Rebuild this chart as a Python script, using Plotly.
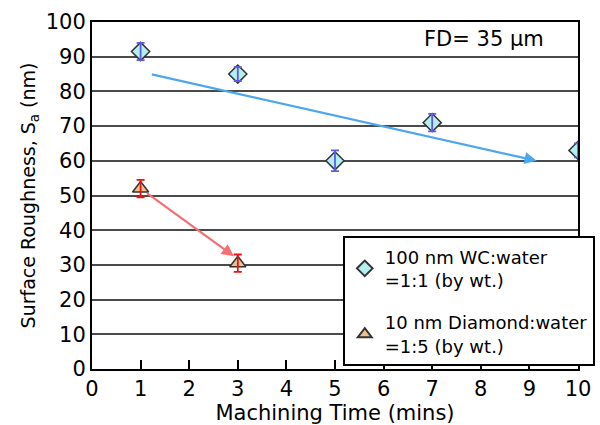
import plotly.graph_objects as go

# Data
wc_time = [1, 3, 5, 7, 10]
wc_sa = [91.5, 85, 60, 71, 63]
wc_err = [2.5, 2, 3, 2.5, 2]

dia_time = [1, 3]
dia_sa = [52, 30.5]
dia_err = [2.5, 2.5]

wc_trend_x = [1.2, 9.15]
wc_trend_y = [85, 60]
dia_trend_x = [1.1, 2.92]
dia_trend_y = [51, 32.5]

wc_name = "100 nm WC:water<br>=1:1 (by wt.)"
dia_name = "10 nm Diamond:water<br>=1:5 (by wt.)"

x_ticks = list(range(0, 11))
y_ticks = list(range(0, 101, 10))

font = "DejaVu Sans, Liberation Sans, Arial, sans-serif"

fig = go.Figure()

fig.add_trace(go.Scatter(
    x=wc_time, y=wc_sa, mode="markers", name=wc_name, legendgroup="wc",
    marker=dict(symbol="diamond", size=14, color="#b5eef0",
                line=dict(color="#333333", width=1.5)),
))
fig.add_trace(go.Scatter(
    x=dia_time, y=dia_sa, mode="markers", name=dia_name, legendgroup="dia",
    marker=dict(symbol="triangle-up", size=14, color="#f2c08c",
                line=dict(color="#333333", width=1.5)),
))
# error bars drawn on top of markers
fig.add_trace(go.Scatter(
    x=wc_time, y=wc_sa, mode="markers", showlegend=False, hoverinfo="skip",
    legendgroup="wc",
    marker=dict(size=1, opacity=0),
    error_y=dict(type="data", array=wc_err, color="#5b5be8", thickness=1.8, width=4),
))
fig.add_trace(go.Scatter(
    x=dia_time, y=dia_sa, mode="markers", showlegend=False, hoverinfo="skip",
    legendgroup="dia",
    marker=dict(size=1, opacity=0),
    error_y=dict(type="data", array=dia_err, color="#ee1111", thickness=1.8, width=4),
))

# Arrows
fig.add_annotation(x=wc_trend_x[1], y=wc_trend_y[1], ax=wc_trend_x[0], ay=wc_trend_y[0],
                   xref="x", yref="y", axref="x", ayref="y", showarrow=True,
                   arrowhead=2, arrowsize=1.1, arrowwidth=2.2, arrowcolor="#4da6f0", text="")
fig.add_annotation(x=dia_trend_x[1], y=dia_trend_y[1], ax=dia_trend_x[0], ay=dia_trend_y[0],
                   xref="x", yref="y", axref="x", ayref="y", showarrow=True,
                   arrowhead=2, arrowsize=1.1, arrowwidth=2.2, arrowcolor="#f47070", text="")

fig.add_annotation(x=0.935, y=0.99, xref="paper", yref="paper", xanchor="right", yanchor="top",
                   text="FD= 35 μm", showarrow=False,
                   font=dict(family=font, size=21, color="black"))

fig.update_layout(
    width=600, height=425,
    margin=dict(l=92, r=22, t=22, b=56, autoexpand=False),
    paper_bgcolor="white", plot_bgcolor="white",
    font=dict(family=font, size=20, color="black"),
    showlegend=True,
    legend=dict(x=0.516, y=0.382, xanchor="left", yanchor="top",
                bgcolor="white", bordercolor="black", borderwidth=2,
                font=dict(family=font, size=18, color="black"),
                itemsizing="constant", tracegroupgap=16, itemwidth=30,
                traceorder="grouped"),
)

fig.update_xaxes(
    range=[0, 10], tickvals=x_ticks, ticks="inside", ticklen=9, tickwidth=2,
    tickcolor="black", showgrid=False, showline=True, linecolor="black",
    linewidth=2, mirror=True, zeroline=False, automargin=False,
    title=dict(text="Machining Time (mins)", standoff=0, font=dict(size=21)),
    tickfont=dict(size=21),
)
fig.update_yaxes(
    range=[0, 100], tickvals=y_ticks, ticks="", showgrid=True,
    gridcolor="#4a4a4a", gridwidth=1.8, showline=True, linecolor="black",
    linewidth=2, mirror=True, zeroline=False, automargin=False,
    title=dict(text="Surface Roughness, S<sub>a</sub> (nm)", standoff=5, font=dict(size=19)),
    tickfont=dict(size=21),
)

fig.write_html("out.html")
